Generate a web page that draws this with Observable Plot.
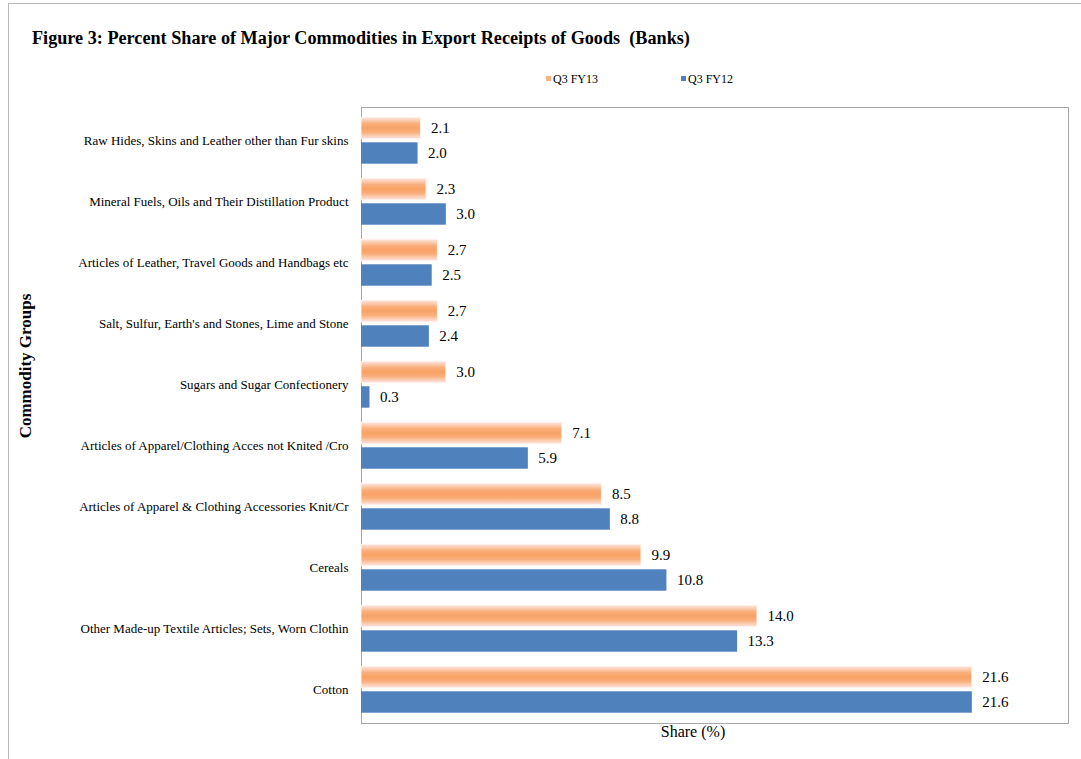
<!DOCTYPE html>
<html>
<head>
<meta charset="utf-8">
<script src="https://cdn.jsdelivr.net/npm/d3@7"></script>
<script src="https://cdn.jsdelivr.net/npm/@observablehq/plot@0.6"></script>
<style>
  html, body { margin: 0; padding: 0; background: #fff; }
  body { font-family: "Liberation Serif", "Times New Roman", serif; color: #000; }
  #wrap { position: relative; width: 1081px; height: 759px; overflow: hidden; }
  #border { position: absolute; left: 8px; top: 3px; width: 1090px; height: 780px; border: 1px solid #b8b8b8; box-sizing: border-box; }
  #title { position: absolute; left: 32px; top: 28px; font-size: 18.2px; font-weight: bold; white-space: pre; }
  .leg { position: absolute; top: 72px; font-size: 12px; white-space: nowrap; }
  .sw { display: inline-block; width: 5px; height: 5px; margin-right: 2px; vertical-align: 2px; }
  #ylab { position: absolute; left: 26px; top: 366px; transform: translate(-50%, -50%) rotate(-90deg); font-size: 17px; font-weight: bold; white-space: nowrap; }
  #xlab { position: absolute; left: 693px; top: 732px; transform: translate(-50%, -50%); font-size: 16px; white-space: nowrap; }
  #chart { position: absolute; left: 0; top: 95px; }
  #chart svg { background: transparent !important; }
</style>
</head>
<body>
<div id="wrap">
  <div id="border"></div>
  <div id="chart"></div>
  <div id="title">Figure 3: Percent Share of Major Commodities in Export Receipts of Goods  (Banks)</div>
  <div class="leg" style="left:546px"><span class="sw" style="background:#f9b07c"></span>Q3 FY13</div>
  <div class="leg" style="left:681px"><span class="sw" style="background:#4f81bd"></span>Q3 FY12</div>
  <div id="ylab">Commodity Groups</div>
  <div id="xlab">Share (%)</div>
</div>
<script>
const categories = [
  "Raw Hides, Skins and Leather other than Fur skins",
  "Mineral Fuels, Oils and Their Distillation Product",
  "Articles of Leather, Travel Goods and Handbags etc",
  "Salt, Sulfur, Earth's and Stones, Lime and Stone",
  "Sugars and Sugar Confectionery",
  "Articles of Apparel/Clothing Acces not Knited /Cro",
  "Articles of Apparel & Clothing Accessories Knit/Cr",
  "Cereals",
  "Other Made-up Textile Articles; Sets, Worn Clothin",
  "Cotton"
];
const seriesNames = ["Q3 FY13", "Q3 FY12"];
const fy13 = [2.1, 2.3, 2.7, 2.7, 3.0, 7.1, 8.5, 9.9, 14.0, 21.6];
const fy12 = [2.0, 3.0, 2.5, 2.4, 0.3, 5.9, 8.8, 10.8, 13.3, 21.6];

const rows13 = categories.map((c, i) => ({category: c, series: seriesNames[0], value: fy13[i]}));
const rows12 = categories.map((c, i) => ({category: c, series: seriesNames[1], value: fy12[i]}));

const W = 1081, H = 664;
const mT = 12, mB = 36;
const band = (H - mT - mB) / categories.length;
const half = band / 2;
const barH = 22, gap = 1.5;

const plot = Plot.plot({
  width: W,
  height: H,
  marginLeft: 361,
  marginRight: 13,
  marginTop: mT,
  marginBottom: mB,
  style: {fontFamily: "'Liberation Serif', 'Times New Roman', serif", fontSize: "13px", color: "#000", background: "transparent"},
  x: {domain: [0, 25], axis: null},
  y: {domain: categories, padding: 0, label: null},
  marks: [
    Plot.frame({stroke: "#a6a6a6"}),
    Plot.barX(rows13, {
      y: "category", x: "value",
      fill: "url(#orangeGrad)",
      stroke: "#fff3ea", strokeWidth: 1,
      insetTop: half - gap - barH, insetBottom: half + gap
    }),
    Plot.barX(rows12, {
      y: "category", x: "value",
      fill: "#4f81bd",
      insetTop: half + gap, insetBottom: half - gap - barH
    }),
    Plot.text(rows13, {
      y: "category", x: "value", text: d => d.value.toFixed(1),
      textAnchor: "start", dx: 10, dy: -(gap + barH / 2), fontSize: 15, fill: "#000"
    }),
    Plot.text(rows12, {
      y: "category", x: "value", text: d => d.value.toFixed(1),
      textAnchor: "start", dx: 10, dy: gap + barH / 2, fontSize: 15, fill: "#000"
    }),
    Plot.axisY({tickSize: 0, tickPadding: 13, label: null, fontSize: 13})
  ]
});

const svg = d3.select(plot);
const defs = svg.insert("defs", ":first-child");
const g = defs.append("linearGradient").attr("id", "orangeGrad")
  .attr("x1", 0).attr("y1", 0).attr("x2", 0).attr("y2", 1);
[
  [0, "#fde3e3"], [0.12, "#fcd0b8"], [0.3, "#f9ae7a"], [0.5, "#f8a164"],
  [0.7, "#f9ae7a"], [0.88, "#fcd0b8"], [1, "#fde3e3"]
].forEach(([o, c]) => g.append("stop").attr("offset", o).attr("stop-color", c));

document.getElementById("chart").appendChild(plot);
</script>
</body>
</html>
